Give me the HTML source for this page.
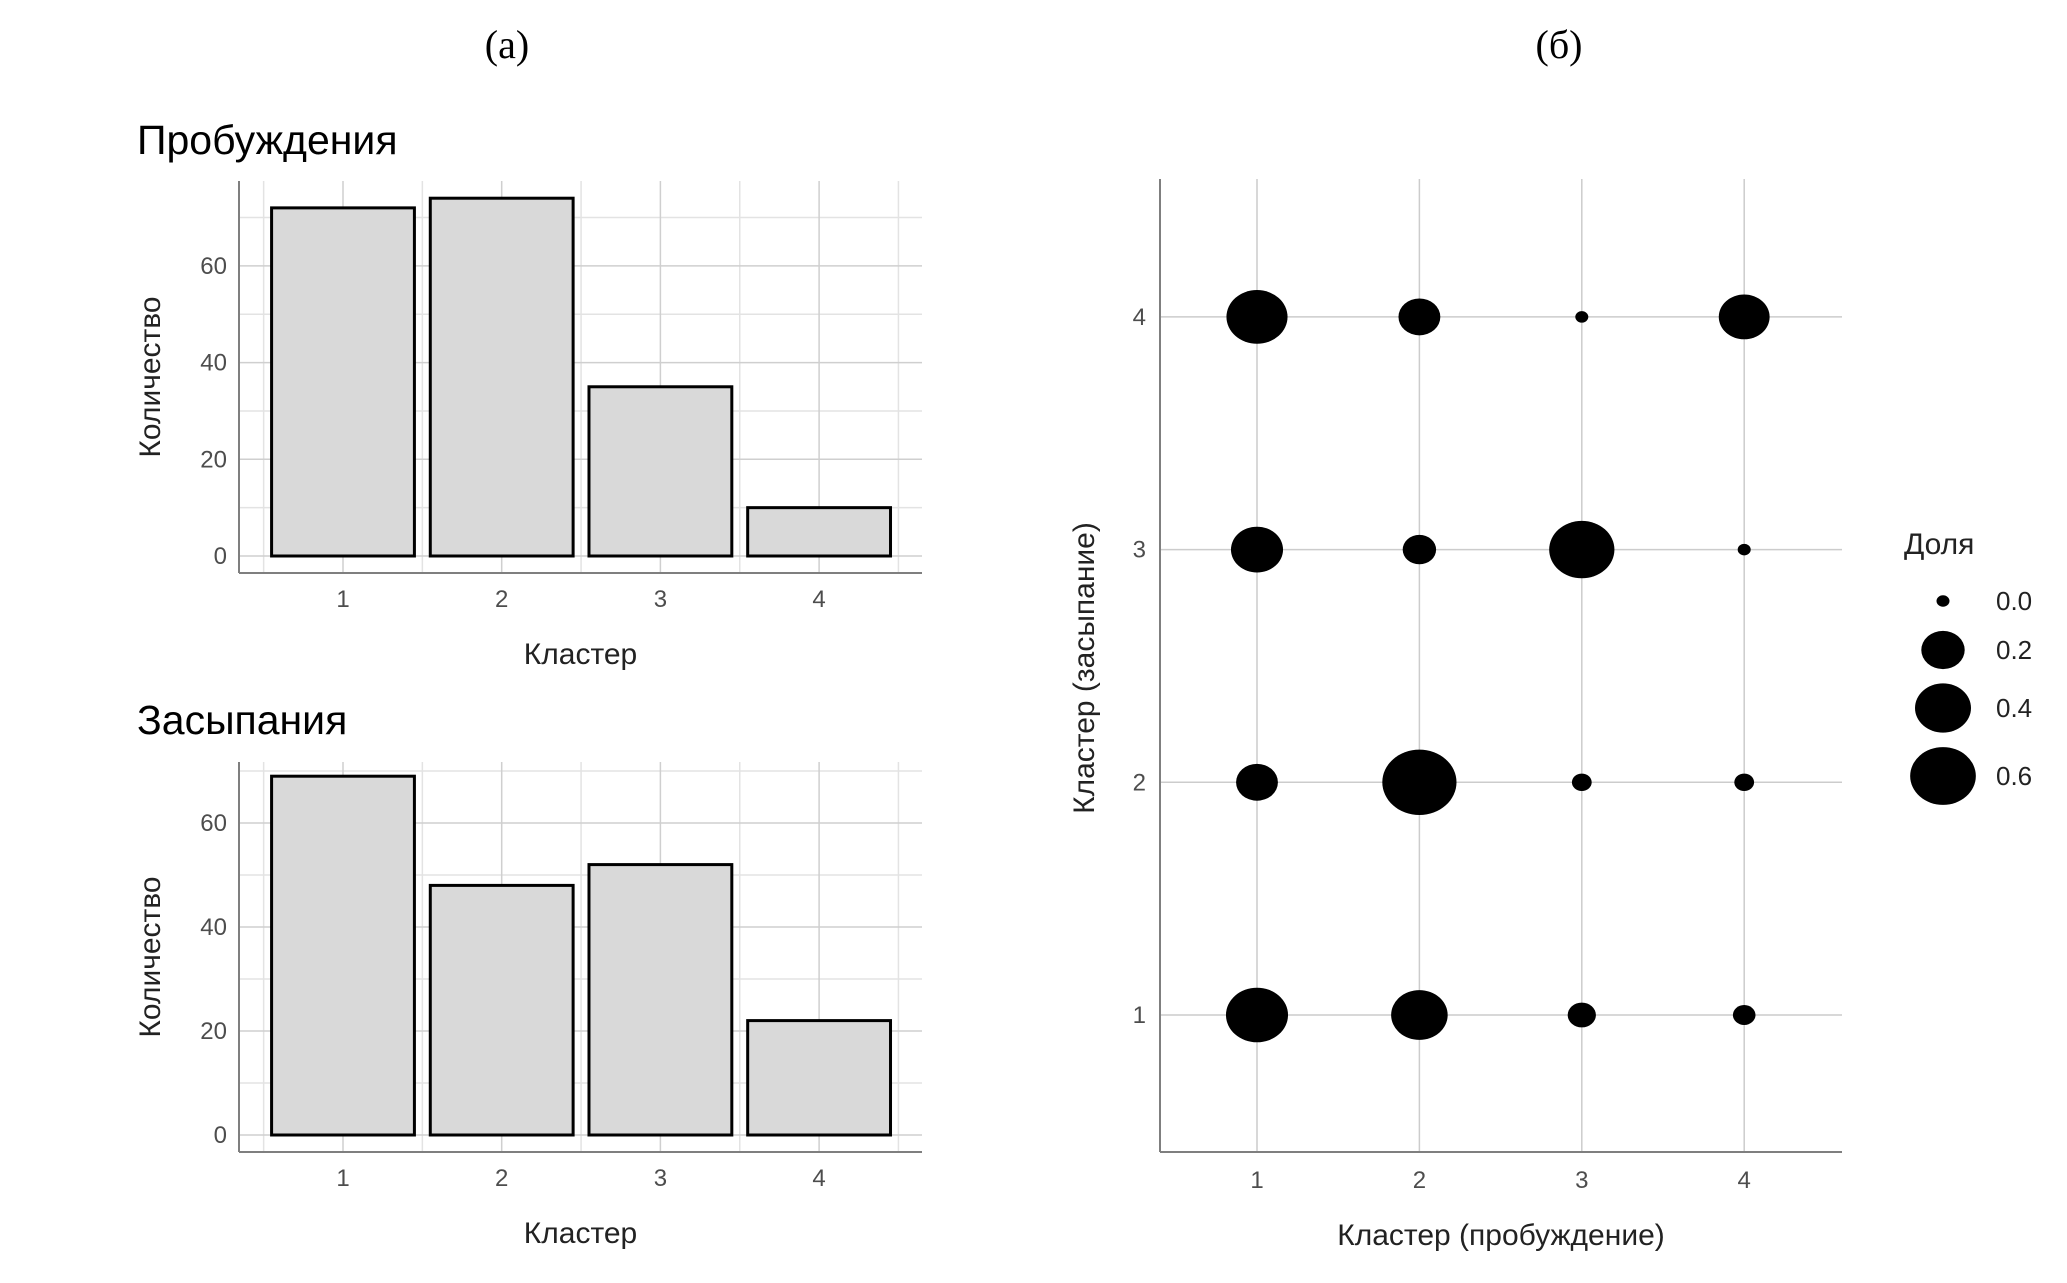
<!DOCTYPE html>
<html><head><meta charset="utf-8">
<style>
html,body{margin:0;padding:0;background:#fff;}
svg{display:block;}
text{font-family:"Liberation Sans",sans-serif;}
</style></head>
<body>
<svg id="fig" width="2067" height="1283" viewBox="0 0 2067 1283" xmlns="http://www.w3.org/2000/svg">
<text x="507" y="58" font-size="40" text-anchor="middle" style="font-family:'Liberation Serif',serif">(а)</text>
<text x="1559" y="58" font-size="40" text-anchor="middle" style="font-family:'Liberation Serif',serif">(б)</text>
<g id="top"></g>
<g id="bot"></g>
<g id="bub"></g>
</svg>
<script>
const cats = ["1","2","3","4"];
const wakeVals = [72, 74, 35, 10];
const sleepVals = [69, 48, 52, 22];
const yTicks = [0, 20, 40, 60];
const bubX = [1,1,1,1, 2,2,2,2, 3,3,3,3, 4,4,4,4];
const bubY = [4,3,2,1, 4,3,2,1, 4,3,2,1, 4,3,2,1];
const bubShare = [0.50,0.33,0.18,0.52, 0.18,0.09,0.81,0.41, 0.00,0.59,0.01,0.05, 0.31,0.00,0.01,0.02];
const legendVals = [0.0, 0.2, 0.4, 0.6];
const legendLabels = ["0.0","0.2","0.4","0.6"];

const NS = "http://www.w3.org/2000/svg";
function mk(parent, tag, attrs, txt){
  const e = document.createElementNS(NS, tag);
  for (const k in attrs) e.setAttribute(k, attrs[k]);
  if (txt !== undefined) e.textContent = txt;
  parent.appendChild(e);
  return e;
}

function barChart(gid, title, vals, P){
  const g = document.getElementById(gid);
  const ys = v => P.y0 - v * P.per;
  const xs = c => P.x1 + c * P.step;
  for (let v = 10; ys(v) >= P.top; v += 20){
    const l = mk(g,'line',{x1:P.axX,x2:P.right,y1:ys(v),y2:ys(v),stroke:'#e3e3e3','stroke-width':1.5});
    
    
  }
  for (let i = -0.5; i <= cats.length - 0.5; i += 1){
    const l = mk(g,'line',{x1:xs(i),x2:xs(i),y1:P.top,y2:P.axY,stroke:'#e3e3e3','stroke-width':1.5});
    
    
  }
  yTicks.forEach(v=>{
    const l = mk(g,'line',{x1:P.axX,x2:P.right,y1:ys(v),y2:ys(v),stroke:'#cfcfcf','stroke-width':1.5});
    
    
    const t = mk(g,'text',{x:P.axX-12,y:ys(v)+8,'font-size':24,fill:'#4d4d4d','text-anchor':'end'},String(v));
    
    
  });
  cats.forEach((c,i)=>{
    const l = mk(g,'line',{x1:xs(i),x2:xs(i),y1:P.top,y2:P.axY,stroke:'#cfcfcf','stroke-width':1.5});
    
    
    const t = mk(g,'text',{x:xs(i),y:P.axY+34,'font-size':24,fill:'#4d4d4d','text-anchor':'middle'},c);
    
    
  });
  vals.forEach((v,i)=>{
    const w = P.step*0.9;
    const r = mk(g,'rect',{x:xs(i)-w/2,y:ys(v),width:w,height:ys(0)-ys(v),fill:'#d9d9d9',stroke:'#000','stroke-width':3});
    
    
  });
  const ax1 = mk(g,'line',{x1:P.axX,x2:P.axX,y1:P.top,y2:P.axY,stroke:'#7f7f7f','stroke-width':2});
  
  
  const ax2 = mk(g,'line',{x1:P.axX,x2:P.right,y1:P.axY,y2:P.axY,stroke:'#7f7f7f','stroke-width':2});
  
  
  const tt = mk(g,'text',{x:137,y:P.titleY,'font-size':41,fill:'#000'},title);
  
  
  const xt = mk(g,'text',{x:(P.axX+P.right)/2,y:P.axY+91,'font-size':30,fill:'#222','text-anchor':'middle'},'Кластер');
  
  
  const cy = (P.top+P.axY)/2;
  const yt = mk(g,'text',{x:160,y:cy,'font-size':30,fill:'#222','text-anchor':'middle',transform:`rotate(-90 160 ${cy})`},'Количество');
  
  
}

barChart('top','Пробуждения',wakeVals,{axX:239,right:922,top:181,axY:573,y0:556,per:96.7/20,x1:343,step:158.7,titleY:154});
barChart('bot','Засыпания',sleepVals,{axX:239,right:922,top:762,axY:1152,y0:1135,per:104/20,x1:343,step:158.7,titleY:734});

(function(){
  const g = document.getElementById('bub');
  const X = v => 1257 + (v-1)*162.4;
  const Y = v => 1015 - (v-1)*232.7;
  const D = s => 13 + 68*Math.sqrt(s);
  const axX=1160, top=179, axY=1152, right=1842;
  [1,2,3,4].forEach(v=>{
    const l = mk(g,'line',{x1:X(v),x2:X(v),y1:top,y2:axY,stroke:'#cccccc','stroke-width':1.5});
    
    
    const l2 = mk(g,'line',{x1:axX,x2:right,y1:Y(v),y2:Y(v),stroke:'#cccccc','stroke-width':1.5});
    
    
    const t = mk(g,'text',{x:X(v),y:axY+36,'font-size':24,fill:'#4d4d4d','text-anchor':'middle'},String(v));
    
    
    const t2 = mk(g,'text',{x:axX-14,y:Y(v)+8,'font-size':24,fill:'#4d4d4d','text-anchor':'end'},String(v));
    
    
  });
  const a1 = mk(g,'line',{x1:axX,x2:axX,y1:top,y2:axY,stroke:'#7f7f7f','stroke-width':2});
  
  
  const a2 = mk(g,'line',{x1:axX,x2:right,y1:axY,y2:axY,stroke:'#7f7f7f','stroke-width':2});
  
  
  bubShare.forEach((s,i)=>{
    const d = D(s);
    const e = mk(g,'ellipse',{cx:X(bubX[i]),cy:Y(bubY[i]),rx:d/2,ry:d*0.44,fill:'#000'});
    
    
  });
  const xt = mk(g,'text',{x:(axX+right)/2,y:1245,'font-size':30,fill:'#222','text-anchor':'middle'},'Кластер (пробуждение)');
  
  
  const yt = mk(g,'text',{x:1094,y:668,'font-size':30,fill:'#222','text-anchor':'middle',transform:'rotate(-90 1094 668)'},'Кластер (засыпание)');
  
  
  const lt = mk(g,'text',{x:1904,y:554,'font-size':30,fill:'#222'},'Доля');
  
  
  const ly = [601, 650, 708, 776];
  legendVals.forEach((s,i)=>{
    const d = D(s);
    const e = mk(g,'ellipse',{cx:1943,cy:ly[i],rx:d/2,ry:d*0.44,fill:'#000'});
    
    
    const t = mk(g,'text',{x:1996,y:ly[i]+9,'font-size':26,fill:'#222'},legendLabels[i]);
    
    
  });
})();
</script>
</body></html>
